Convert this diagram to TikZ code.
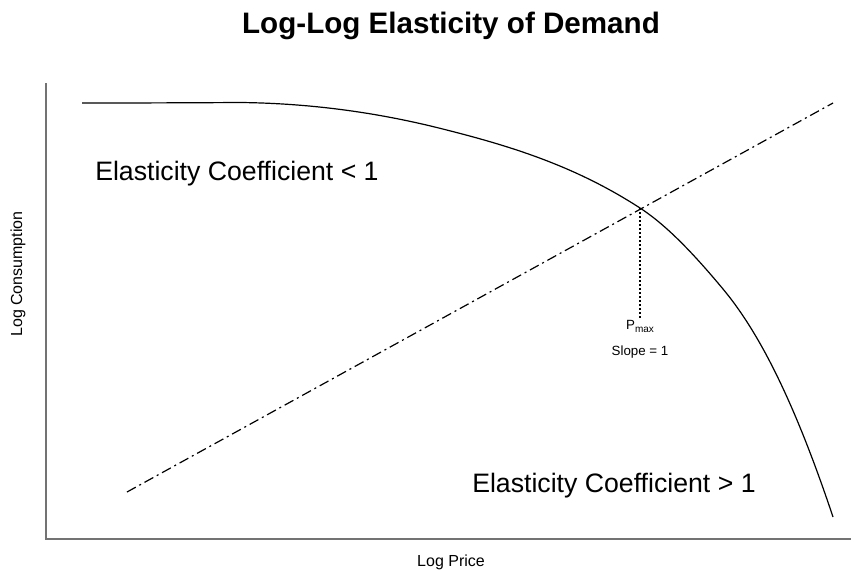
\documentclass[tikz,border=0pt]{standalone}
\usepackage{fontspec}
\setmainfont{Liberation Sans}
\begin{document}
\begin{tikzpicture}[x=0.75pt,y=-0.75pt,
  axisline/.style={draw=black!55,line width=1.1pt},
  demand/.style={line width=0.9pt},
  unitslope/.style={line width=0.9pt,dash pattern=on 7.5pt off 3pt on 1.5pt off 3pt},
  droplinestyle/.style={line width=1.5pt,dash pattern=on 1.5pt off 1.5pt},
  bigtext/.style={font=\fontsize{20pt}{24pt}\selectfont,inner sep=0pt},
  axistext/.style={font=\fontsize{12pt}{14pt}\selectfont,inner sep=0pt},
  smalltext/.style={font=\fontsize{10pt}{12pt}\selectfont,inner sep=0pt}]
\useasboundingbox (0,0) rectangle (859,569);
% title
\node[font=\bfseries\fontsize{22.2pt}{26pt}\selectfont,inner sep=0pt] (title) at (451,26) {Log-Log Elasticity of Demand};
% axes
\coordinate (top) at (46,83);
\coordinate (origin) at (46,539);
\coordinate (right) at (851,539);
\draw[axisline] (top) -- (origin) -- (right);
\node[axistext] (xlab) at (451,562) {Log Price};
\node[axistext,rotate=90] (ylab) at (18,274) {Log Consumption};
% unit-slope line
\coordinate (u0) at (127,492);
\coordinate (u1) at (833,103);
\draw[unitslope] (u0) -- (u1);
% demand curve, piecewise cubic with matched tangents
\coordinate (d0) at (82,103);
\coordinate (d1) at (240,102.5);
\coordinate (d2) at (440,128.3);
\coordinate (pmax) at (640,208);
\coordinate (d4) at (723,289);
\coordinate (d5) at (780,382);
\coordinate (d6) at (833,517);
\draw[demand] (d0)
  .. controls (134.7,103) and (187.3,102.8) .. (d1)
  .. controls (306.7,103.2) and (373.3,111.6) .. (d2)
  .. controls (506.7,145) and (573.3,164.7) .. (pmax)
  .. controls (667.7,226) and (695.3,255.8) .. (d4)
  .. controls (742,311.8) and (761,342.1) .. (d5)
  .. controls (797.7,419.1) and (815.3,464) .. (d6);
% Pmax marker
\node[smalltext,anchor=north] (pm) at (640,320) {P\raisebox{-0.45ex}{\fontsize{7.5pt}{8pt}\selectfont max}};
\node[smalltext,anchor=north] (slope) at (640,346) {Slope = 1};
\draw[droplinestyle] (pmax) -- (640,318);
% region labels
\node[bigtext,anchor=west] (inel) at (95,174) {Elasticity Coefficient < 1};
\node[bigtext,anchor=west] (el) at (472,486) {Elasticity Coefficient > 1};
\end{tikzpicture}
\end{document}
